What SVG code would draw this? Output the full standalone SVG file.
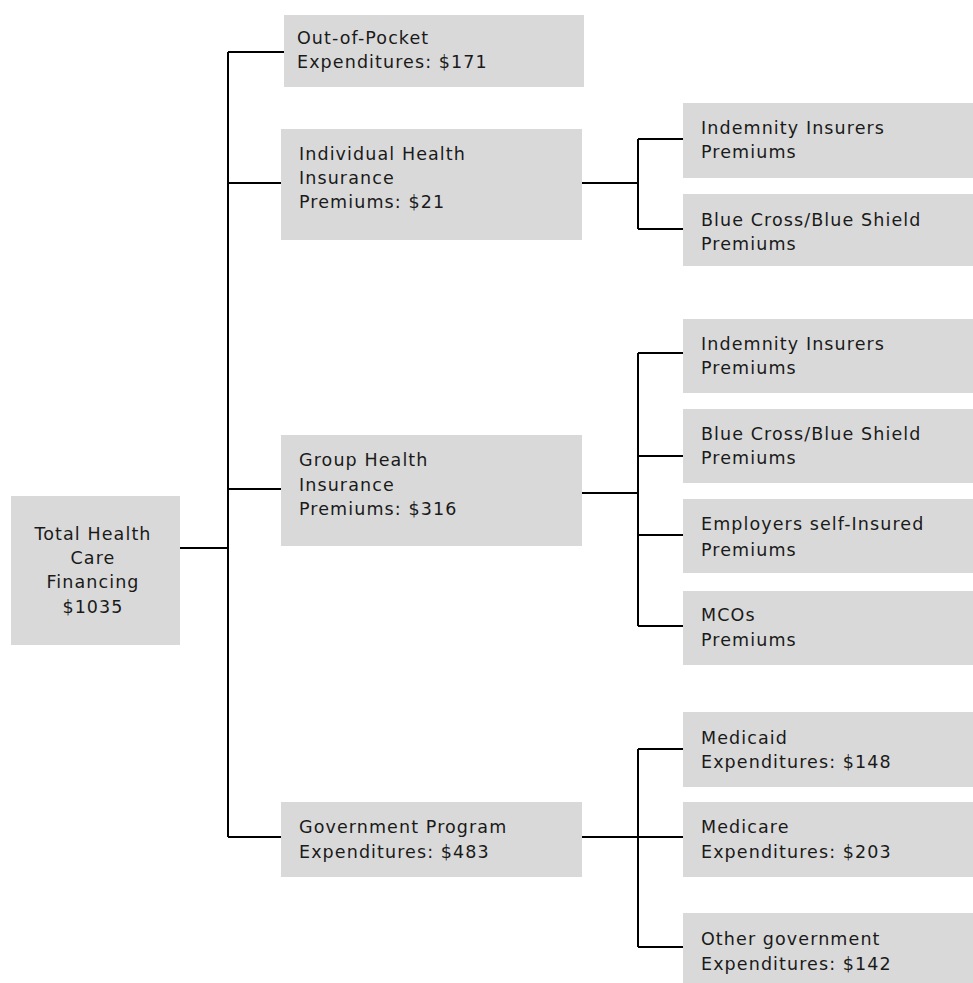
<svg xmlns="http://www.w3.org/2000/svg" width="973" height="983" viewBox="0 0 973 983">
<style>
.box{fill:#d9d9d9}
text{font-family:"DejaVu Sans","Verdana",sans-serif;font-size:17.5px;letter-spacing:1.1px;fill:#1a1a1a}
.c{text-anchor:middle}
.ln{fill:none;stroke:#000;stroke-width:2}
</style>
<rect width="973" height="983" fill="#fff"/>
<g id="connectors">
<path class="ln" d="M180 548H228M228 52V837M228 52H284M228 183H281M228 489H281M228 837H281"/>
<path class="ln" d="M582 183H638M638 139V229M638 139H683M638 229H683"/>
<path class="ln" d="M582 493H638M638 353V626M638 353H683M638 456H683M638 535H683M638 626H683"/>
<path class="ln" d="M582 837H638M638 749V947M638 749H683M638 837H683M638 947H683"/>
</g>
<g id="root"><rect class="box" x="11" y="496" width="169" height="149"/>
<text class="c" x="93" y="540">Total Health</text><text class="c" x="93" y="564">Care</text><text class="c" x="93" y="588">Financing</text><text class="c" x="93" y="613">$1035</text></g>
<g id="oop"><rect class="box" x="284" y="15" width="300" height="72"/>
<text x="297" y="44">Out-of-Pocket</text><text x="297" y="68">Expenditures: $171</text></g>
<g id="indiv"><rect class="box" x="281" y="129" width="301" height="111"/>
<text x="299" y="160">Individual Health</text><text x="299" y="184">Insurance</text><text x="299" y="208">Premiums: $21</text></g>
<g id="group"><rect class="box" x="281" y="435" width="301" height="111"/>
<text x="299" y="466">Group Health</text><text x="299" y="491">Insurance</text><text x="299" y="515">Premiums: $316</text></g>
<g id="gov"><rect class="box" x="281" y="802" width="301" height="75"/>
<text x="299" y="833">Government Program</text><text x="299" y="858">Expenditures: $483</text></g>
<g id="ind1"><rect class="box" x="683" y="103" width="290" height="75"/>
<text x="701" y="134">Indemnity Insurers</text><text x="701" y="158">Premiums</text></g>
<g id="bc1"><rect class="box" x="683" y="194" width="290" height="72"/>
<text x="701" y="226">Blue Cross/Blue Shield</text><text x="701" y="250">Premiums</text></g>
<g id="ind2"><rect class="box" x="683" y="319" width="290" height="74"/>
<text x="701" y="350">Indemnity Insurers</text><text x="701" y="374">Premiums</text></g>
<g id="bc2"><rect class="box" x="683" y="409" width="290" height="74"/>
<text x="701" y="440">Blue Cross/Blue Shield</text><text x="701" y="464">Premiums</text></g>
<g id="emp"><rect class="box" x="683" y="499" width="290" height="74"/>
<text x="701" y="530">Employers self-Insured</text><text x="701" y="556">Premiums</text></g>
<g id="mco"><rect class="box" x="683" y="591" width="290" height="74"/>
<text x="701" y="621">MCOs</text><text x="701" y="646">Premiums</text></g>
<g id="medicaid"><rect class="box" x="683" y="712" width="290" height="75"/>
<text x="701" y="744">Medicaid</text><text x="701" y="768">Expenditures: $148</text></g>
<g id="medicare"><rect class="box" x="683" y="802" width="290" height="75"/>
<text x="701" y="833">Medicare</text><text x="701" y="858">Expenditures: $203</text></g>
<g id="othergov"><rect class="box" x="683" y="913" width="290" height="70"/>
<text x="701" y="945">Other government</text><text x="701" y="970">Expenditures: $142</text></g>
</svg>
